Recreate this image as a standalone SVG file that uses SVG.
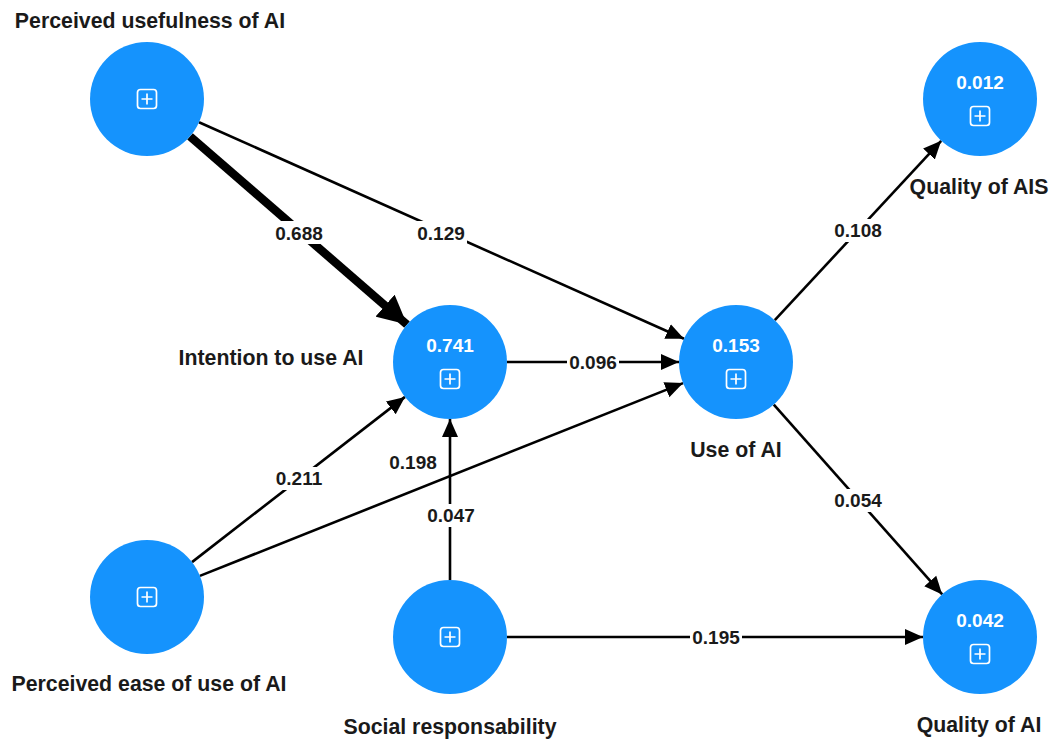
<svg xmlns="http://www.w3.org/2000/svg" xmlns:xlink="http://www.w3.org/1999/xlink" width="1055" height="742" viewBox="0 0 1055 742">
<style>
.node{fill:#1593fd}
.val{font-family:"Liberation Sans",Arial,sans-serif;font-weight:bold;font-size:19px;fill:#fff;text-anchor:middle}
.lbl{font-family:"Liberation Sans",Arial,sans-serif;font-weight:bold;font-size:21.3px;fill:#1a1a1a;text-anchor:middle}
.edge{stroke:#000;stroke-width:2.6;fill:none;marker-end:url(#arr)}
.thick{stroke:#000;stroke-width:8.5;fill:none;marker-end:url(#arrBig)}
.elbl{font-family:"Liberation Sans",Arial,sans-serif;font-weight:bold;font-size:19px;fill:#1a1a1a;text-anchor:middle}
.bg{fill:#fff}
</style>
<defs>
<marker id="arr" markerUnits="userSpaceOnUse" markerWidth="18" markerHeight="18" viewBox="0 0 18 16" refX="18" refY="8" orient="auto">
<path d="M0,0 L18,8 L0,16 Z" fill="#000"/>
</marker>
<marker id="arrBig" markerUnits="userSpaceOnUse" markerWidth="29" markerHeight="29" viewBox="0 0 28 28" refX="28" refY="14" orient="auto">
<path d="M0,0 L28,14 L0,28 Z" fill="#000"/>
</marker>
<g id="icon">
<rect x="-9.5" y="-9.5" width="19" height="19" rx="3" ry="3" fill="none" stroke="#fff" stroke-width="1.7"/>
<path d="M-5.5,0 H5.5 M0,-5.5 V5.5" stroke="#fff" stroke-width="1.7"/>
</g>
</defs>
<rect width="1055" height="742" fill="#fff"/>
<g id="connectors">
<path class="thick" d="M190,136.4 L407,324.6"/>
<path class="edge" d="M199,122.2 L684,338.8"/>
<path class="edge" d="M507,362 L679,362"/>
<path class="edge" d="M192,562.1 L405,396.9"/>
<path class="edge" d="M199.9,575.9 L683.1,383.1"/>
<path class="edge" d="M450,580 L450,419"/>
<path class="edge" d="M507,637 L923,637"/>
<path class="edge" d="M774.8,320.2 L941.2,140.8"/>
<path class="edge" d="M773.8,404.6 L942.2,594.4"/>
<rect class="bg" x="273" y="221" width="52" height="23"/>
<text class="elbl" x="299" y="240">0.688</text>
<rect class="bg" x="415" y="221" width="52" height="23"/>
<text class="elbl" x="441" y="240">0.129</text>
<rect class="bg" x="567" y="351" width="52" height="23"/>
<text class="elbl" x="593" y="369">0.096</text>
<rect class="bg" x="273" y="467" width="52" height="23"/>
<text class="elbl" x="299" y="485">0.211</text>
<text class="elbl" x="413" y="469">0.198</text>
<rect class="bg" x="425" y="504" width="52" height="23"/>
<text class="elbl" x="451" y="522">0.047</text>
<rect class="bg" x="690" y="626" width="52" height="23"/>
<text class="elbl" x="716" y="644">0.195</text>
<rect class="bg" x="832" y="219" width="52" height="23"/>
<text class="elbl" x="858" y="237">0.108</text>
<rect class="bg" x="832" y="489" width="52" height="23"/>
<text class="elbl" x="858" y="507">0.054</text>
</g>
<g id="node-pu">
<circle class="node" cx="147" cy="99" r="57"/>
<use xlink:href="#icon" x="147" y="99"/>
<text class="lbl" x="150" y="28">Perceived usefulness of AI</text>
</g>
<g id="node-int">
<circle class="node" cx="450" cy="362" r="57"/>
<text class="val" x="450" y="352">0.741</text>
<use xlink:href="#icon" x="450" y="379"/>
<text class="lbl" x="271" y="365">Intention to use AI</text>
</g>
<g id="node-use">
<circle class="node" cx="736" cy="362" r="57"/>
<text class="val" x="736" y="352">0.153</text>
<use xlink:href="#icon" x="736" y="379"/>
<text class="lbl" x="736" y="457">Use of AI</text>
</g>
<g id="node-qais">
<circle class="node" cx="980" cy="99" r="57"/>
<text class="val" x="980" y="89">0.012</text>
<use xlink:href="#icon" x="980" y="116"/>
<text class="lbl" x="979" y="194">Quality of AIS</text>
</g>
<g id="node-peu">
<circle class="node" cx="147" cy="597" r="57"/>
<use xlink:href="#icon" x="147" y="597"/>
<text class="lbl" x="149" y="691">Perceived ease of use of AI</text>
</g>
<g id="node-sr">
<circle class="node" cx="450" cy="637" r="57"/>
<use xlink:href="#icon" x="450" y="637"/>
<text class="lbl" x="450" y="734">Social responsability</text>
</g>
<g id="node-qai">
<circle class="node" cx="980" cy="637" r="57"/>
<text class="val" x="980" y="627">0.042</text>
<use xlink:href="#icon" x="980" y="654"/>
<text class="lbl" x="979" y="732">Quality of AI</text>
</g>
</svg>
